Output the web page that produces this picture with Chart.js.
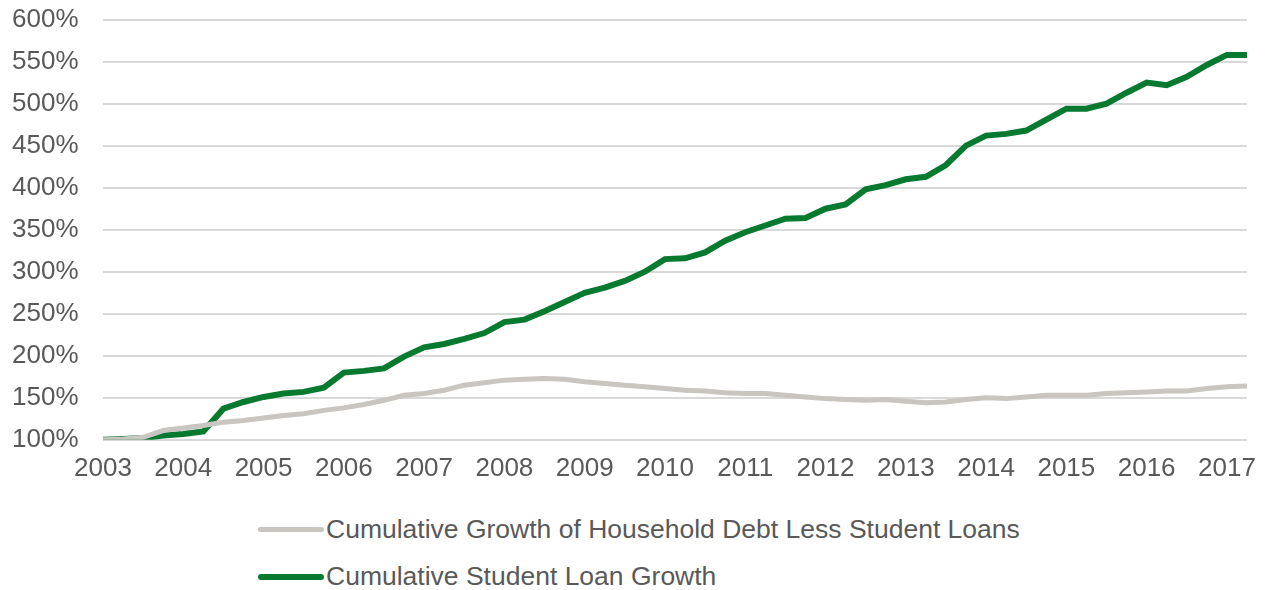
<!DOCTYPE html>
<html lang="en">
<head>
  <meta charset="UTF-8"/>
  <title>Cumulative Student Loan Growth</title>
  <script src="https://cdn.jsdelivr.net/npm/chart.js"></script>
  <style>
    body { margin:0; padding:0; background:#fff; font-family:'Liberation Sans',Arial,sans-serif; }
    .wrap { position:relative; width:1273px; height:590px; }
    .chart-box { position:absolute; left:0; top:0; width:1273px; height:500px; }
    #legend { position:absolute; left:258px; top:506px; }
    .leg-item { display:flex; align-items:center; height:47px; color:#595959; font-size:26.5px; }
    .leg-line { width:66px; margin-right:2px; border-radius:3px; }
  </style>
</head>
<body>
<div class="wrap">
  <div class="chart-box"><canvas id="debtChart"></canvas></div>
  <div id="legend"></div>
</div>

<script>
  // quarterly data, 2003 Q1 .. 2017 Q2
  const quarters = [
    '2003Q1','2003Q2','2003Q3','2003Q4','2004Q1','2004Q2','2004Q3','2004Q4',
    '2005Q1','2005Q2','2005Q3','2005Q4','2006Q1','2006Q2','2006Q3','2006Q4',
    '2007Q1','2007Q2','2007Q3','2007Q4','2008Q1','2008Q2','2008Q3','2008Q4',
    '2009Q1','2009Q2','2009Q3','2009Q4','2010Q1','2010Q2','2010Q3','2010Q4',
    '2011Q1','2011Q2','2011Q3','2011Q4','2012Q1','2012Q2','2012Q3','2012Q4',
    '2013Q1','2013Q2','2013Q3','2013Q4','2014Q1','2014Q2','2014Q3','2014Q4',
    '2015Q1','2015Q2','2015Q3','2015Q4','2016Q1','2016Q2','2016Q3','2016Q4',
    '2017Q1','2017Q2'
  ];
  const yearLabels = ['2003','2004','2005','2006','2007','2008','2009','2010',
                      '2011','2012','2013','2014','2015','2016','2017'];
  const householdLessStudent = [
    100,101,103,111,114,117,121,123,126,129,131,135,138,142,147,153,
    155,159,165,168,171,172,173,172,169,167,165,163,161,159,158,156,
    155,155,153,151,149,148,147,148,146,144,145,148,150,149,151,153,
    153,153,155,156,157,158,158,161,163,164
  ];
  const studentLoan = [
    100,101,102,105,107,110,137,145,151,155,157,162,180,182,185,199,
    210,214,220,227,240,243,253,264,275,281,289,300,315,316,323,337,
    347,355,363,364,375,380,398,403,410,413,427,450,462,464,468,481,
    494,494,500,513,525,522,532,546,558,558
  ];
  const yTicks = [100,150,200,250,300,350,400,450,500,550,600];

  const seriesNames = ['Cumulative Growth of Household Debt Less Student Loans','Cumulative Student Loan Growth'];
  const seriesColors = ['#c9c5c0','#087a30'];
  const fontFamily = "'Liberation Sans', Arial, sans-serif";

  const ctx = document.getElementById('debtChart').getContext('2d');
  const chart = new Chart(ctx, {
    type:'line',
    data:{
      labels:quarters,
      datasets:[
        {label:seriesNames[0], data:householdLessStudent, borderColor:seriesColors[0], borderWidth:5, pointRadius:0, tension:0},
        {label:seriesNames[1], data:studentLoan, borderColor:seriesColors[1], borderWidth:6, pointRadius:0, tension:0}
      ]
    },
    options:{
      responsive:true, maintainAspectRatio:false, animation:false,
      layout:{padding:{left:12, right:26, top:0, bottom:3}},
      plugins:{legend:{display:false}, tooltip:{enabled:false}},
      scales:{
        x:{
          offset:false,
          grid:{display:false, drawTicks:false},
          border:{display:false},
          ticks:{
            autoSkip:false, maxRotation:0, padding:13,
            color:'#595959', font:{size:26, family:fontFamily},
            callback:(v,i)=> i%4===0 ? yearLabels[i/4] : ''
          }
        },
        y:{
          min:100, max:600,
          afterFit:s=>{ s.width = 91; },
          afterBuildTicks:s=>{ s.ticks = yTicks.map(v=>({value:v})); },
          grid:{color:'#d9d9d9', lineWidth:2, drawTicks:false},
          border:{display:false},
          ticks:{
            padding:4, crossAlign:'far', color:'#595959',
            font:{size:26, family:fontFamily},
            callback:v=> v + '%'
          }
        }
      }
    }
  });

  // legend stacked vertically like the original
  const legend = document.getElementById('legend');
  chart.data.datasets.forEach(ds=>{
    const row = document.createElement('div');
    row.className = 'leg-item';
    row.innerHTML = `<span class="leg-line" style="height:${ds.borderWidth}px;background:${ds.borderColor}"></span>${ds.label}`;
    legend.appendChild(row);
  });
</script>
</body>
</html>
